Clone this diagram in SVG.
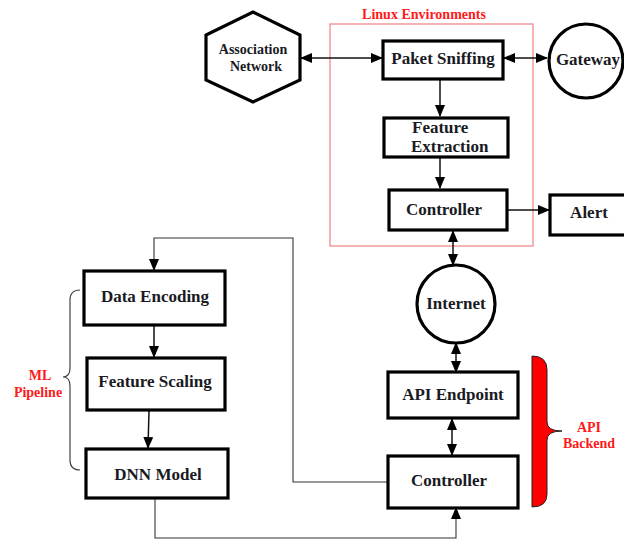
<svg xmlns="http://www.w3.org/2000/svg" width="624" height="546" viewBox="0 0 624 546">
<style>
.box{fill:#fff;stroke:#000;stroke-width:3.2}
.t{font-family:"Liberation Serif","Times New Roman",serif;font-weight:bold;fill:#1a1a24;text-anchor:middle;font-size:17px}
.s{font-size:14px}
.red{fill:#ff1a1a}
.c{fill:none;stroke:#111;stroke-width:1.5}
.thin{fill:none;stroke:#333;stroke-width:1.1}
</style>
<defs>
<marker id="ah" markerUnits="userSpaceOnUse" markerWidth="12" markerHeight="10" refX="11" refY="5" orient="auto-start-reverse">
<path d="M0,0 L12,5 L0,10 Z" fill="#000"/>
</marker>
</defs>
<rect width="624" height="546" fill="#fff"/>

<g id="linux-env">
<rect x="330" y="24" width="203" height="222" fill="none" stroke="#f08080" stroke-width="1.2"/>
<text class="t s red" x="424" y="19">Linux Environments</text>
</g>

<g id="connectors">
<line class="c" x1="301" y1="58" x2="382" y2="58" marker-start="url(#ah)" marker-end="url(#ah)"/>
<line class="c" x1="504" y1="58" x2="547" y2="58" marker-start="url(#ah)" marker-end="url(#ah)"/>
<line class="c" x1="440" y1="80" x2="440" y2="116" marker-end="url(#ah)"/>
<line class="c" x1="440" y1="158" x2="440" y2="188" marker-end="url(#ah)"/>
<line class="c" x1="508" y1="210" x2="549" y2="210" marker-end="url(#ah)"/>
<line class="c" x1="453" y1="231" x2="453" y2="265" marker-start="url(#ah)" marker-end="url(#ah)"/>
<line class="c" x1="456" y1="343" x2="456" y2="372" marker-start="url(#ah)" marker-end="url(#ah)"/>
<line class="c" x1="452" y1="419" x2="452" y2="455" marker-start="url(#ah)" marker-end="url(#ah)"/>
<polyline class="thin" points="387,482 293,482 293,238 154,238 154,270" marker-end="url(#ah)"/>
<line class="c" x1="154" y1="326" x2="154" y2="357" marker-end="url(#ah)"/>
<line class="c" x1="149" y1="411" x2="148" y2="448" marker-end="url(#ah)"/>
<polyline class="thin" points="155,499 155,538 456,538 456,508" marker-end="url(#ah)"/>
</g>

<g id="association-network">
<polygon points="253,12 300,35 300,80 253,102 206,80 206,35" fill="#fff" stroke="#000" stroke-width="3.2"/>
<text class="t s" x="253" y="54">Association</text>
<text class="t s" x="256" y="71">Network</text>
</g>

<g id="paket-sniffing">
<rect class="box" x="383" y="41" width="120" height="38"/>
<text class="t" x="443" y="64">Paket Sniffing</text>
</g>

<g id="gateway">
<circle cx="586" cy="61" r="37" fill="#fff" stroke="#000" stroke-width="3.2"/>
<text class="t" x="588" y="65">Gateway</text>
</g>

<g id="feature-extraction">
<rect class="box" x="384" y="118" width="124" height="39"/>
<text class="t" x="412" y="133" style="text-anchor:start">Feature</text>
<text class="t" x="411" y="152" style="text-anchor:start">Extraction</text>
</g>

<g id="controller-linux">
<rect class="box" x="389" y="190" width="118" height="40"/>
<text class="t" x="444" y="215">Controller</text>
</g>

<g id="alert">
<rect class="box" x="550" y="195" width="80" height="40"/>
<text class="t" x="589" y="218">Alert</text>
</g>

<g id="internet">
<circle cx="456" cy="304" r="39" fill="#fff" stroke="#000" stroke-width="3.2"/>
<text class="t" x="456" y="309">Internet</text>
</g>

<g id="api-endpoint">
<rect class="box" x="388" y="372" width="130" height="46"/>
<text class="t" x="453" y="400">API Endpoint</text>
</g>

<g id="controller-api">
<rect class="box" x="388" y="456" width="130" height="52"/>
<text class="t" x="449" y="486">Controller</text>
</g>

<g id="api-backend">
<path d="M532,356 Q547,356 547,370 L547,422 Q547,431 562,431 Q547,431 547,440 L547,494 Q547,507 532,507 Z" fill="#ff0000" stroke="#222" stroke-width="1"/>
<text class="t s red" x="589" y="432">API</text>
<text class="t s red" x="589" y="448">Backend</text>
</g>

<g id="data-encoding">
<rect class="box" x="84" y="271" width="141" height="54"/>
<text class="t" x="155" y="302">Data Encoding</text>
</g>

<g id="feature-scaling">
<rect class="box" x="87" y="358" width="138" height="52"/>
<text class="t" x="155" y="387">Feature Scaling</text>
</g>

<g id="dnn-model">
<rect class="box" x="86" y="449" width="142" height="49"/>
<text class="t" x="158" y="480">DNN Model</text>
</g>

<g id="ml-pipeline">
<path d="M80,290 Q70,290 70,300 L70,368 Q70,377 63,377 Q70,377 70,386 L70,460 Q70,470 80,470" fill="none" stroke="#444" stroke-width="1.2"/>
<text class="t s red" x="40" y="380">ML</text>
<text class="t s red" x="38" y="397">Pipeline</text>
</g>
</svg>
